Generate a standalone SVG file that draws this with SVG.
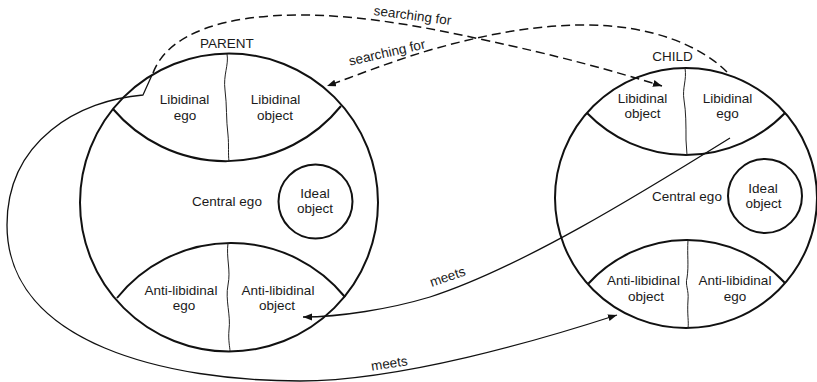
<svg xmlns="http://www.w3.org/2000/svg" width="817" height="382" viewBox="0 0 817 382">
<style>
.bd{fill:none;stroke:#111;stroke-width:2}
.dv{fill:none;stroke:#222;stroke-width:1}
.cn{fill:none;stroke:#111;stroke-width:1.3}
.ds{stroke-dasharray:9 5;stroke-width:1.5}
text{font-family:"Liberation Sans",Arial,sans-serif;font-size:13.5px;fill:#1a1a1a;text-anchor:middle}
</style>
<defs>
<marker id="ah" markerUnits="userSpaceOnUse" markerWidth="10" markerHeight="8" refX="9" refY="3.5" orient="auto">
<path d="M0,0 L9,3.5 L0,7 z" fill="#111"/>
</marker>
</defs>
<rect width="817" height="382" fill="#fff"/>
<g id="parent">
<circle class="bd" cx="229" cy="202.5" r="149"/>
<text x="227" y="48">PARENT</text>
<g id="p-libidinal">
<path class="bd" d="M113,109 A148,148 0 0 0 341,106"/>
<path class="dv" d="M227,54 C229,65 223,75 225,90 C227,105 226,120 228,135 C229,145 228,155 229,161"/>
<text x="184.5" y="104">Libidinal</text><text x="185" y="120">ego</text>
<text x="275.5" y="104">Libidinal</text><text x="275" y="120">object</text>
</g>
<g id="p-central">
<text x="227" y="206">Central ego</text>
</g>
<g id="p-ideal">
<circle class="bd" cx="315.5" cy="201.5" r="37"/>
<text x="315" y="198">Ideal</text><text x="315" y="213">object</text>
</g>
<g id="p-anti">
<path class="bd" d="M117,298 A146.5,146.5 0 0 1 345,297"/>
<path class="dv" d="M228,243 C226,258 231,270 228,285 C225,300 231,315 229,330 C228,340 230,348 230,351"/>
<text x="181" y="295">Anti-libidinal</text><text x="184" y="310">ego</text>
<text x="278" y="295">Anti-libidinal</text><text x="277" y="310">object</text>
</g>
</g>
<g id="child">
<ellipse class="bd" cx="686" cy="198" rx="131" ry="130"/>
<text x="672.5" y="61">CHILD</text>
<g id="c-libidinal">
<path class="bd" d="M587,113 A137.7,137.7 0 0 0 785,113"/>
<path class="dv" d="M685,68 C687,80 682,88 684,100 C686,112 686,125 686,140 L687,155"/>
<text x="642.5" y="103">Libidinal</text><text x="642.5" y="118">object</text>
<text x="727.5" y="103">Libidinal</text><text x="727.5" y="118">ego</text>
</g>
<g id="c-central">
<text x="687" y="201">Central ego</text>
</g>
<g id="c-ideal">
<circle class="bd" cx="765" cy="196" r="37"/>
<text x="763" y="193">Ideal</text><text x="763.5" y="208">object</text>
</g>
<g id="c-anti">
<path class="bd" d="M588,284 A133.4,133.4 0 0 1 785,283"/>
<path class="dv" d="M688,240 C687,255 689,265 687,278 C685,285 689,290 688,300 C687,315 689,322 688,328"/>
<text x="643.5" y="285">Anti-libidinal</text><text x="646" y="301">object</text>
<text x="735" y="285">Anti-libidinal</text><text x="735" y="301">ego</text>
</g>
</g>
<g id="connectors">
<path class="cn ds" d="M153,73 C168,33 225,15 300,15 C360,15 420,26 480,39 C560,56 610,70 662,86" marker-end="url(#ah)"/>
<text transform="translate(412,20) rotate(7.5)">searching for</text>
<path class="cn ds" d="M727,72 C700,45 650,25 585,25 C530,25 480,36 430,50 C390,62 360,74 327,86" marker-end="url(#ah)"/>
<text transform="translate(388,57) rotate(-13)">searching for</text>
<path class="cn" d="M730,138 C640,194 520,268 430,297 C390,309 340,317 303,317" marker-end="url(#ah)"/>
<text transform="translate(449,281) rotate(-19)">meets</text>
<path class="cn" d="M152,75 L143,95 C80,100 7,140 7,225 C7,345 170,381 300,381 C400,381 540,340 617,315" marker-end="url(#ah)"/>
<text transform="translate(390,368) rotate(-9)">meets</text>
</g>
</svg>
